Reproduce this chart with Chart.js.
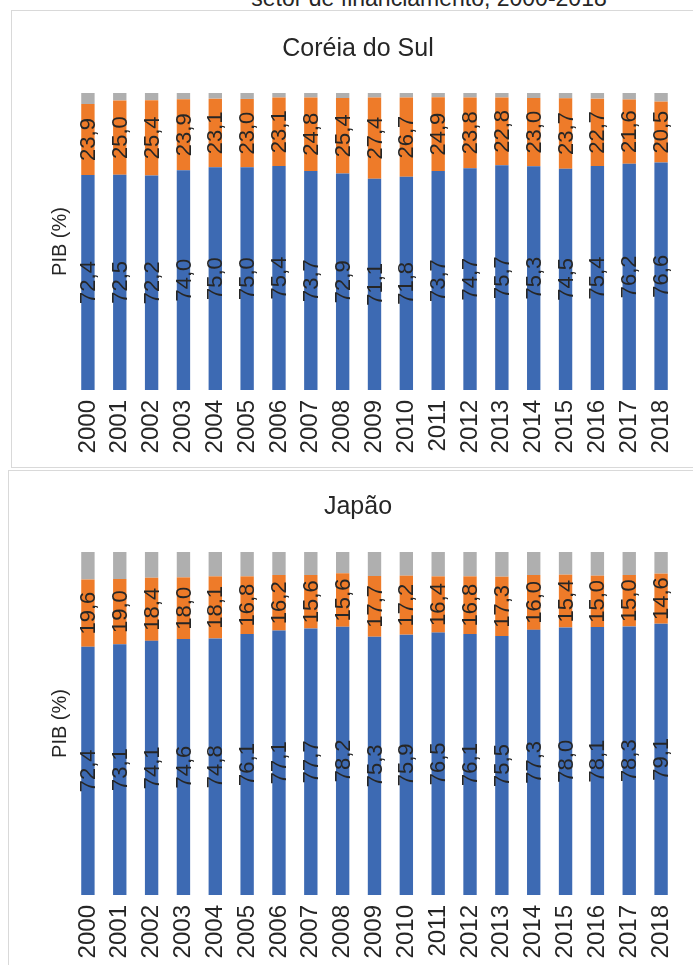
<!DOCTYPE html>
<html lang="pt">
<head>
<meta charset="utf-8">
<title>Dispêndio por setor de financiamento, 2000-2018</title>
<script src="https://cdn.jsdelivr.net/npm/chart.js@4.4.1/dist/chart.umd.min.js"></script>
<style>
  html, body { margin: 0; padding: 0; background: #ffffff; }
  body { position: relative; width: 693px; height: 965px; overflow: hidden;
         font-family: "Liberation Sans", Arial, sans-serif; color: #262626; }
  .heading { position: absolute; left: 0; width: 858px; top: -13px; text-align: center;
             font-size: 23px; line-height: 23px; white-space: nowrap; color: #262626; }
  .panel { position: absolute; border: 1px solid #d9d9d9; box-sizing: border-box; background: #ffffff; }
  #panelKr { left: 11px; top: 10px; width: 720px; height: 458px; }
  #panelJp { left: 8px; top: 470px; width: 720px; height: 560px; }
  .chartBox { position: absolute; }
  #boxKr { left: 39px; top: 11px; width: 654px; height: 456px; }
  #boxJp { left: 39px; top: 471px; width: 654px; height: 494px; }
</style>
</head>
<body>
<div class="heading">setor de financiamento, 2000-2018</div>
<div class="panel" id="panelKr"></div>
<div class="panel" id="panelJp"></div>
<div class="chartBox" id="boxKr"><canvas id="chartKr"></canvas></div>
<div class="chartBox" id="boxJp"><canvas id="chartJp"></canvas></div>
<script>
// Anos
const years = ['2000','2001','2002','2003','2004','2005','2006','2007','2008','2009',
               '2010','2011','2012','2013','2014','2015','2016','2017','2018'];

// Coréia do Sul (% do total)
const koreaBusiness   = [72.4,72.5,72.2,74.0,75.0,75.0,75.4,73.7,72.9,71.1,71.8,73.7,74.7,75.7,75.3,74.5,75.4,76.2,76.6];
const koreaGovernment = [23.9,25.0,25.4,23.9,23.1,23.0,23.1,24.8,25.4,27.4,26.7,24.9,23.8,22.8,23.0,23.7,22.7,21.6,20.5];
const koreaOther      = [3.7,2.5,2.4,2.1,1.9,2.0,1.5,1.5,1.7,1.5,1.5,1.4,1.5,1.5,1.7,1.8,1.9,2.2,2.9];

// Japão (% do total)
const japanBusiness   = [72.4,73.1,74.1,74.6,74.8,76.1,77.1,77.7,78.2,75.3,75.9,76.5,76.1,75.5,77.3,78.0,78.1,78.3,79.1];
const japanGovernment = [19.6,19.0,18.4,18.0,18.1,16.8,16.2,15.6,15.6,17.7,17.2,16.4,16.8,17.3,16.0,15.4,15.0,15.0,14.6];
const japanOther      = [8.0,7.9,7.5,7.4,7.1,7.1,6.7,6.7,6.2,7.0,6.9,7.1,7.1,7.2,6.7,6.6,6.9,6.7,6.3];

const BLUE = '#3d6ab3';
const ORANGE = '#ee7b29';
const GRAY = '#afafaf';
const TEXT = '#262626';
const FONT = '"Liberation Sans", Arial, sans-serif';

// Rótulos de valor girados, centrados em cada segmento
const segmentLabels = {
  id: 'segmentLabels',
  afterDatasetsDraw(chart) {
    const ctx = chart.ctx;
    ctx.save();
    ctx.fillStyle = TEXT;
    ctx.font = '22px ' + FONT;
    ctx.textAlign = 'center';
    ctx.textBaseline = 'middle';
    chart.data.datasets.forEach((ds, di) => {
      if (!ds.showValues) return;
      const meta = chart.getDatasetMeta(di);
      meta.data.forEach((bar, i) => {
        const p = bar.getProps(['x', 'y', 'base'], true);
        const cy = (p.y + p.base) / 2;
        const txt = ds.data[i].toFixed(1).replace('.', ',');
        ctx.save();
        ctx.translate(p.x, cy);
        ctx.rotate(-Math.PI / 2);
        ctx.fillText(txt, 0, 1);
        ctx.restore();
      });
    });
    ctx.restore();
  }
};

function buildChart(canvasId, titleText, business, government, other, geo) {
  return new Chart(document.getElementById(canvasId), {
    type: 'bar',
    data: {
      labels: years,
      datasets: [
        { label: 'Empresas', data: business, backgroundColor: BLUE, showValues: true },
        { label: 'Governo', data: government, backgroundColor: ORANGE, showValues: true },
        { label: 'Outros', data: other, backgroundColor: GRAY, showValues: false }
      ]
    },
    options: {
      responsive: true,
      maintainAspectRatio: false,
      animation: false,
      layout: { padding: { left: 0, right: 16, top: 0, bottom: 0 } },
      datasets: { bar: { categoryPercentage: 1.0, barPercentage: 0.42, borderWidth: 0 } },
      plugins: {
        legend: { display: false },
        tooltip: { enabled: false },
        title: {
          display: true,
          text: titleText,
          color: TEXT,
          font: { family: FONT, size: 25, weight: 'normal', lineHeight: 1.2 },
          padding: { top: geo.titleTop, bottom: geo.titleBottom }
        }
      },
      scales: {
        x: {
          stacked: true,
          grid: { display: false, drawTicks: false },
          border: { display: false },
          ticks: {
            color: TEXT,
            font: { family: FONT, size: 24 },
            minRotation: 90, maxRotation: 90,
            autoSkip: false,
            padding: 10
          },
          afterFit(scale) {
            scale.height = geo.xHeight;
            scale.paddingLeft = 0;
            scale.paddingRight = 0;
          }
        },
        y: {
          stacked: true,
          min: 0, max: 100,
          grid: { display: false, drawTicks: false },
          border: { display: false },
          ticks: { display: false },
          title: {
            display: true,
            text: 'PIB (%)',
            color: TEXT,
            font: { family: FONT, size: 20 },
            padding: { top: 9, bottom: 0 }
          },
          afterFit(scale) { scale.width = 33; }
        }
      }
    },
    plugins: [segmentLabels]
  });
}

buildChart('chartKr', 'Coréia do Sul', koreaBusiness, koreaGovernment, koreaOther,
           { titleTop: 23, titleBottom: 29, xHeight: 77 });
buildChart('chartJp', 'Japão', japanBusiness, japanGovernment, japanOther,
           { titleTop: 21, titleBottom: 30, xHeight: 70 });
</script>
</body>
</html>
